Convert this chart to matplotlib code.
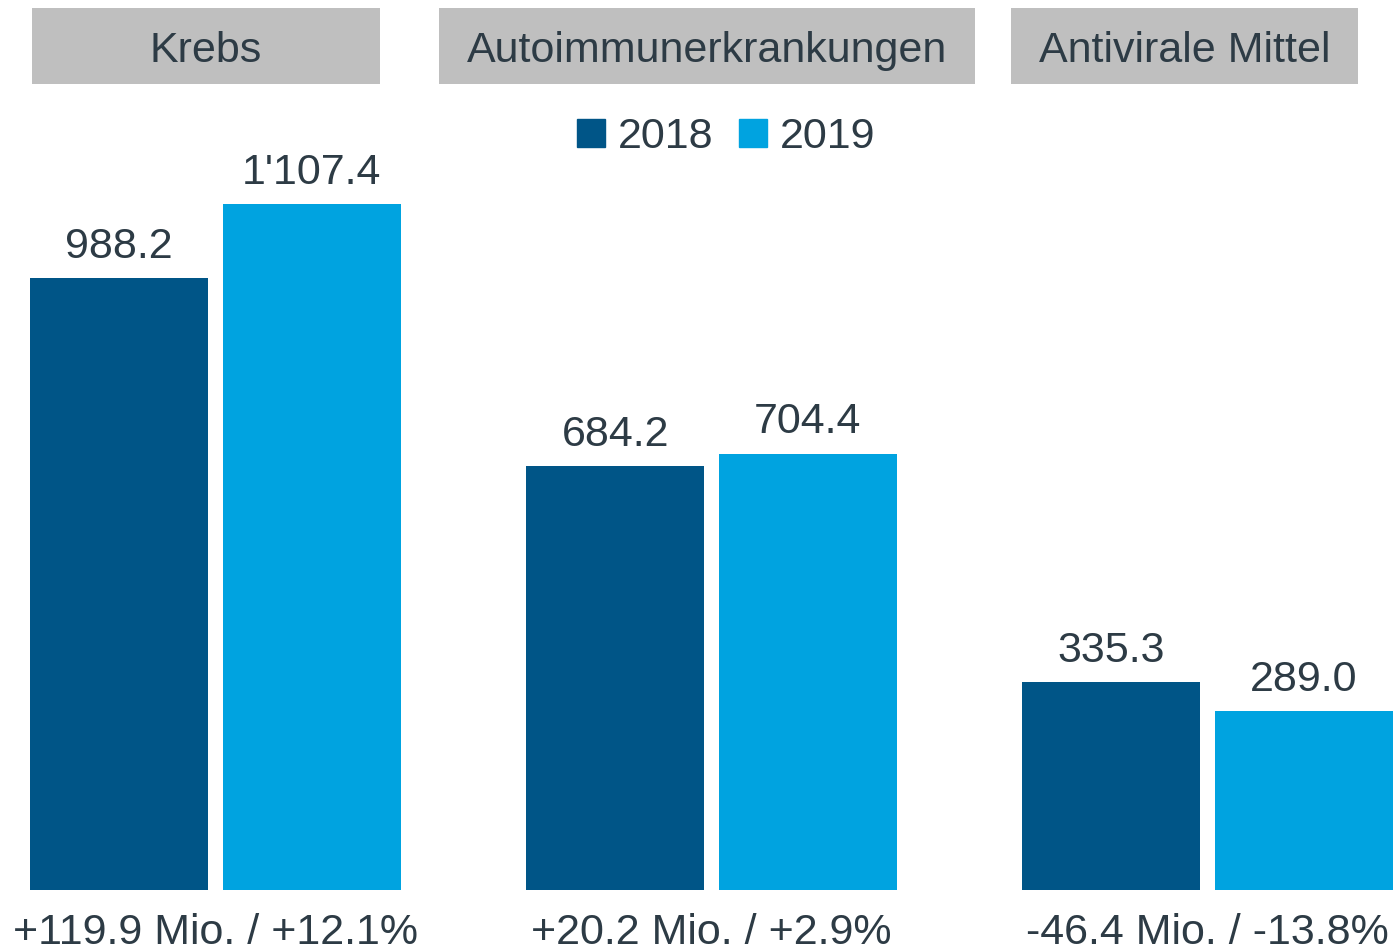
import matplotlib.pyplot as plt
import numpy as np
from matplotlib.patches import Patch, Rectangle

# Daten
categories = ["Krebs", "Autoimmunerkrankungen", "Antivirale Mittel"]
years = ["2018", "2019"]
values_2018 = [988.2, 684.2, 335.3]
values_2019 = [1107.4, 704.4, 289.0]
labels_2018 = ["988.2", "684.2", "335.3"]
labels_2019 = ["1'107.4", "704.4", "289.0"]
changes = ["+119.9 Mio. / +12.1%", "+20.2 Mio. / +2.9%", "-46.4 Mio. / -13.8%"]

color_2018 = "#005587"
color_2019 = "#00a3e0"
text_color = "#2d3b45"
header_color = "#bfbfbf"

plt.rcParams["font.family"] = ["Liberation Sans", "DejaVu Sans"]

W, H = 1396, 949
fig = plt.figure(figsize=(W / 100, H / 100), dpi=100)

# Achse: Unterkante der Balken bei y=890 px, oben bis Bildrand
ax = fig.add_axes([0, (H - 890) / H, 1, 890 / H])
ax.set_ylim(0, 890 / 0.6195)
ax.set_xlim(-215.5 / 496, (W - 215.5) / 496)
ax.axis("off")

x = np.arange(len(categories))
offset = 0.194
width = 0.359

bars1 = ax.bar(x - offset, values_2018, width, color=color_2018, label=years[0])
bars2 = ax.bar(x + offset, values_2019, width, color=color_2019, label=years[1])

for bars, labels in [(bars1, labels_2018), (bars2, labels_2019)]:
    for b, lab in zip(bars, labels):
        ax.annotate(
            lab,
            (b.get_x() + b.get_width() / 2, b.get_height()),
            xytext=(0, 14.5),
            textcoords="offset points",
            ha="center",
            va="baseline",
            fontsize=31,
            color=text_color,
        )

# Veränderung unter jeder Gruppe (im Original unten leicht abgeschnitten)
for xi, txt in zip(x, changes):
    ax.annotate(
        txt,
        (xi, 0),
        xytext=(0, -39),
        textcoords="offset points",
        ha="center",
        va="baseline",
        fontsize=31,
        color=text_color,
        annotation_clip=False,
    )

# Kopfzeilen (graue Boxen) in Pixelkoordinaten
header_boxes = [(32, 380), (439, 975), (1011, 1358)]
for (x0, x1), cat in zip(header_boxes, categories):
    fig.patches.append(
        Rectangle(
            (x0 / W, 1 - 84 / H),
            (x1 - x0) / W,
            76 / H,
            transform=fig.transFigure,
            facecolor=header_color,
            edgecolor="none",
        )
    )
    fig.text(
        (x0 + x1) / 2 / W,
        1 - 51 / H,
        cat,
        ha="center",
        va="center",
        fontsize=31,
        color=text_color,
    )

handles = [Patch(color=color_2018), Patch(color=color_2019)]
leg = fig.legend(
    handles,
    years,
    loc="center",
    bbox_to_anchor=(726 / W, 1 - 137 / H),
    ncol=2,
    frameon=False,
    fontsize=31,
    handlelength=0.65,
    handleheight=0.65,
    handletextpad=0.3,
    columnspacing=0.6,
    borderpad=0,
)
for t in leg.get_texts():
    t.set_color(text_color)

fig.savefig("out.png", dpi=100)
